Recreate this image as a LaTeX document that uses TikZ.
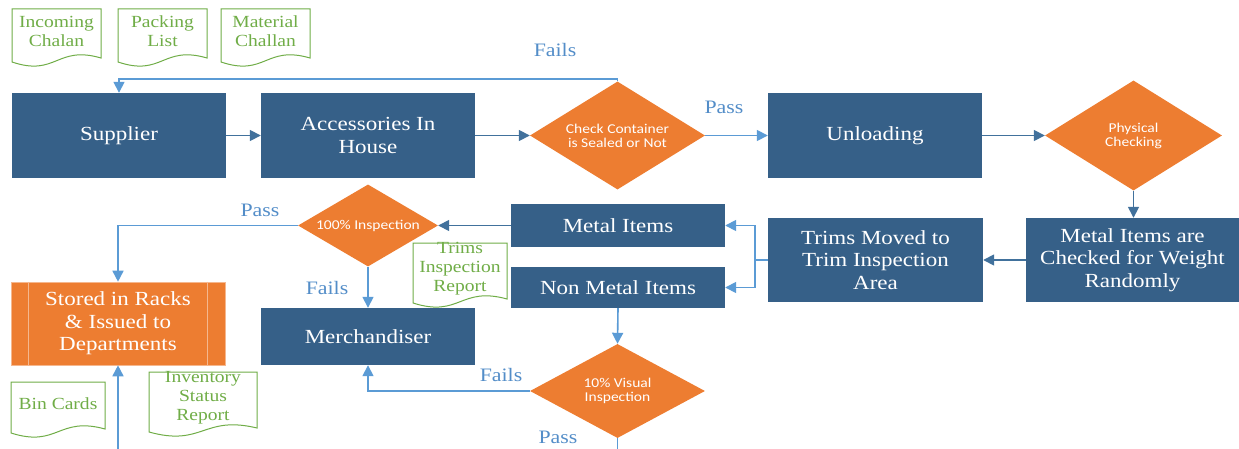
\documentclass[tikz,border=0pt]{standalone}
\usepackage{fontspec}
\setmainfont[FakeStretch=1.15]{Liberation Serif}
\newfontfamily\dfont[FakeStretch=1.15]{Carlito}
\usetikzlibrary{arrows.meta,shapes.geometric,calc}
\definecolor{boxblue}{RGB}{54,96,136}
\definecolor{orng}{RGB}{237,125,49}
\definecolor{grn}{RGB}{112,173,71}
\definecolor{lblue}{RGB}{91,155,213}
\definecolor{dblue}{RGB}{65,113,156}
\definecolor{lbltext}{RGB}{83,141,200}
\newcommand\docnode[6]{%
  \draw[docline] (#2,#3) -- (#4,#3) -- (#4,{#5-4})
    .. controls ({(#2+#4)/2},{#5-17}) and ({(#2+#4)/2},{#5+15}) .. (#2,#5) -- cycle;
  \node[doctext] (#1) at ({(#2+#4)/2},{(#3+#5)/2-4}) {#6};
}
\begin{document}
\begin{tikzpicture}[x=1pt,y=-1pt,
  box/.style={rectangle, fill=boxblue, text=white, font=\fontsize{20}{22.5}\selectfont, align=center, inner sep=0pt},
  dia/.style={diamond, fill=orng, text=white, font=\dfont\fontsize{13.5}{14}\selectfont, align=center, inner sep=0pt},
  docline/.style={draw=grn, line width=1pt, fill=white},
  doctext/.style={text=grn, font=\fontsize{17}{19}\selectfont, align=center, inner sep=0pt},
  lbl/.style={text=lbltext, font=\fontsize{19}{21}\selectfont, inner sep=0pt},
  conL/.style={draw=lblue, line width=1.6pt, -{Triangle[length=11pt,width=11pt]}},
  conD/.style={draw=dblue, line width=1.6pt, -{Triangle[length=11pt,width=11pt]}},
  lineL/.style={draw=lblue, line width=1.6pt}]
\useasboundingbox (0,0) rectangle (1239,449);

% documents
\docnode{inc}{12}{9}{101}{62}{Incoming\\Chalan}
\docnode{pack}{118}{9}{207}{62}{Packing\\List}
\docnode{mat}{221}{9}{310}{62}{Material\\Challan}

% top row
\node[box, minimum width=214pt, minimum height=85pt] (sup) at (119,135.5) {Supplier};
\node[box, minimum width=214pt, minimum height=85pt] (acc) at (368,135.5) {Accessories In\\House};
\node[dia, minimum width=175pt, minimum height=108pt, aspect=1.6] (ck) at (617.5,135.5) {Check Container\\is Sealed or Not};
\node[box, minimum width=214pt, minimum height=85pt] (unl) at (875,135.5) {Unloading};
\node[dia, minimum width=177pt, minimum height=110pt, aspect=1.6] (phy) at (1133.5,135.5) {Physical\\Checking};

% second row
\node[box, minimum width=213pt, minimum height=84pt] (mchk) at (1132.5,260) {Metal Items are\\Checked for Weight\\Randomly};
\node[box, minimum width=215pt, minimum height=84pt] (trims) at (875.5,260) {Trims Moved to\\Trim Inspection\\Area};
\node[box, minimum width=214pt, minimum height=43pt] (metal) at (618,225.5) {Metal Items};
\node[box, minimum width=214pt, minimum height=41pt] (nonm) at (618,287.5) {Non Metal Items};
\node[dia, minimum width=140pt, minimum height=82pt, aspect=1.7] (insp) at (368,225.5) {100\% Inspection};
\node[box, minimum width=214pt, minimum height=57pt] (merch) at (368,336.5) {Merchandiser};
\node[rectangle, fill=orng, draw=orng!55!white, line width=0.6pt, text=white,
      font=\fontsize{20}{22.5}\selectfont, align=center, inner sep=0pt,
      minimum width=214pt, minimum height=83pt] (stored) at (118,323.5) {Stored in Racks\\\& Issued to\\Departments};
\draw[draw=orng!55!white, line width=1pt] ([xshift=18pt]stored.north west) -- ([xshift=18pt]stored.south west);
\draw[draw=orng!55!white, line width=1pt] ([xshift=-18pt]stored.north east) -- ([xshift=-18pt]stored.south east);
\node[dia, minimum width=175pt, minimum height=94pt, aspect=1.85] (vis) at (617.5,391) {10\% Visual\\Inspection};

% other documents
\docnode{tir}{413}{243}{507}{303}{Trims\\Inspection\\Report}
\docnode{bin}{11}{382}{105}{433}{Bin Cards}
\docnode{inv}{149}{372}{257}{432}{Inventory\\Status\\Report}

% connectors
\draw[conL] (ck.north) -- ++(0,-2) -| (sup.north);
\draw[conD] (sup.east) -- (acc.west);
\draw[conD] (acc.east) -- (ck.west);
\draw[conL] (ck.east) -- (unl.west);
\draw[conD] (unl.east) -- (phy.west);
\draw[conD] (phy.south) -- (phy.south |- mchk.north);
\draw[conD] (mchk.west) -- (trims.west -| mchk.west) -- (trims.east);
\draw[lineL] (trims.west) -- ++(-13,0) coordinate (sp);
\draw[conL] (sp) |- (metal.east);
\draw[conL] (sp) |- (nonm.east);
\draw[conD] (metal.west) -- (insp.east);
\draw[conL] (insp.west) -| (stored.north);
\draw[conL] (insp.south) -- (merch.north);
\draw[conL] (nonm.south) -- (vis.north);
\draw[conL] (vis.west) -| (merch.south);
\coordinate (vend) at (617.5,449);
\draw[lineL] (vis.south) -- (vend);
\coordinate (bstart) at (118,449);
\draw[conL] (bstart) -- (stored.south);

% labels
\node[lbl] (l1) at (555,50) {Fails};
\node[lbl] (l2) at (724,107) {Pass};
\node[lbl] (l3) at (260,210) {Pass};
\node[lbl] (l4) at (327,288) {Fails};
\node[lbl] (l5) at (501,375) {Fails};
\node[lbl] (l6) at (558,437) {Pass};
\end{tikzpicture}
\end{document}
